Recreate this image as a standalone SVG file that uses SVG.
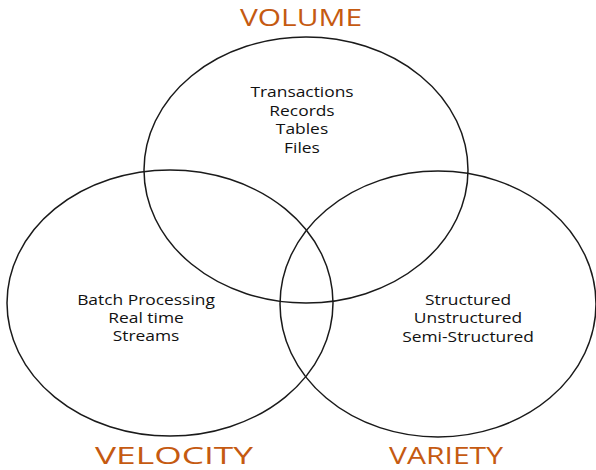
<svg xmlns="http://www.w3.org/2000/svg" width="596" height="470" viewBox="0 0 596 470">
<style>
.c{fill:none;stroke:#1a1a1a;stroke-width:1.5}
.t{font-family:"Open Sans","Liberation Sans",sans-serif;font-size:14.5px;fill:#111;text-anchor:middle}
.h{font-family:"Open Sans","Liberation Sans",sans-serif;font-size:24px;fill:#C55A11;text-anchor:middle}
</style>
<rect width="596" height="470" fill="#fff"/>
<g id="volume">
<ellipse class="c" cx="306" cy="170" rx="162" ry="133"/>
<text class="h" x="301" y="26" textLength="122" lengthAdjust="spacingAndGlyphs">VOLUME</text>
<text class="t" transform="translate(302,97) scale(1.2,1)">Transactions</text>
<text class="t" transform="translate(302,116) scale(1.2,1)">Records</text>
<text class="t" transform="translate(302,134) scale(1.2,1)">Tables</text>
<text class="t" transform="translate(302,153) scale(1.2,1)">Files</text>
</g>
<g id="velocity">
<ellipse class="c" cx="170" cy="303" rx="163" ry="133"/>
<text class="h" x="174" y="464" textLength="158" lengthAdjust="spacingAndGlyphs">VELOCITY</text>
<text class="t" transform="translate(146,305) scale(1.2,1)">Batch Processing</text>
<text class="t" transform="translate(146,323) scale(1.2,1)">Real time</text>
<text class="t" transform="translate(146,341) scale(1.2,1)">Streams</text>
</g>
<g id="variety">
<ellipse class="c" cx="438" cy="304" rx="158" ry="133"/>
<text class="h" x="446" y="464" textLength="114" lengthAdjust="spacingAndGlyphs">VARIETY</text>
<text class="t" transform="translate(468,305) scale(1.2,1)">Structured</text>
<text class="t" transform="translate(468,323) scale(1.2,1)">Unstructured</text>
<text class="t" transform="translate(468,342) scale(1.2,1)">Semi-Structured</text>
</g>
<g id="connectors"/>
</svg>
